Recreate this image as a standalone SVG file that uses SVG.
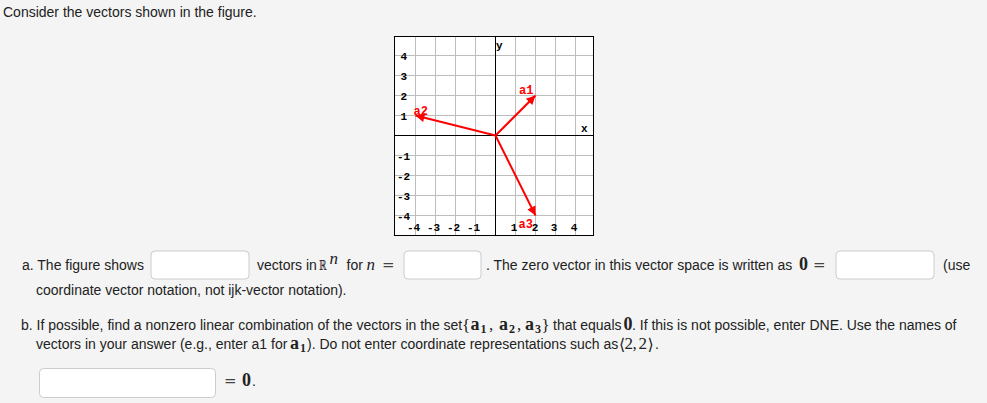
<svg xmlns="http://www.w3.org/2000/svg" width="987" height="403" viewBox="0 0 987 403">
<style>
.t{font-family:"Liberation Sans",Arial,sans-serif;font-size:14px;fill:#222}
.m{font-family:"Liberation Serif","Times New Roman",serif;font-size:17px;fill:#222}
.eq{font-family:"DejaVu Serif",serif;font-size:15px;fill:#444}
.mb{font-family:"Liberation Serif","Times New Roman",serif;font-size:18px;font-weight:bold;fill:#222}
.sb{font-family:"Liberation Serif","Times New Roman",serif;font-size:12px;font-weight:bold;fill:#222}
.sym{font-family:"DejaVu Serif",serif;fill:#222}
.box{fill:#fff;stroke:#ccc;stroke-width:1}
.grid{stroke:#bdbdbd;stroke-width:1}
.axis{stroke:#000;stroke-width:1}
.lab{font-family:"Liberation Mono","Courier New",monospace;font-size:11px;font-weight:bold;fill:#000}
.vl{font-family:"Liberation Mono","Courier New",monospace;font-size:12px;font-weight:bold;fill:#f00}
.vec{stroke:#f00;stroke-width:2;fill:none}
</style>
<defs>
<marker id="ah" viewBox="0 0 10 10" refX="10" refY="5" markerWidth="11" markerHeight="9" markerUnits="userSpaceOnUse" orient="auto">
<path d="M0,0 L10,5 L0,10 z" fill="#f00"/>
</marker>
</defs>
<rect x="0" y="0" width="987" height="403" fill="#f4f4f4"/>
<text class="t" x="3" y="17">Consider the vectors shown in the figure.</text>

<g id="graph">
<rect x="394.5" y="36.5" width="199" height="199" fill="#fff"/>
<g id="gridlines">
<path class="grid" d="M415.5,36.5V235.5M435.5,36.5V235.5M455.5,36.5V235.5M475.5,36.5V235.5M515.5,36.5V235.5M535.5,36.5V235.5M555.5,36.5V235.5M575.5,36.5V235.5M394.5,55.5H593.5M394.5,75.5H593.5M394.5,95.5H593.5M394.5,115.5H593.5M394.5,155.5H593.5M394.5,175.5H593.5M394.5,195.5H593.5M394.5,215.5H593.5"/>
</g>
<path class="axis" d="M495.5,36.5V235.5M394.5,135.5H593.5"/>
<rect x="394.5" y="36.5" width="199" height="199" fill="none" stroke="#000" stroke-width="1"/>
<g id="ylabels">
<text class="lab" x="400.5" y="60">4</text>
<text class="lab" x="400.5" y="80">3</text>
<text class="lab" x="400.5" y="100">2</text>
<text class="lab" x="400.5" y="120">1</text>
<text class="lab" x="397" y="160">-1</text>
<text class="lab" x="397" y="180">-2</text>
<text class="lab" x="397" y="200">-3</text>
<text class="lab" x="397" y="220">-4</text>
</g>
<g id="xlabels" text-anchor="middle">
<text class="lab" x="413.5" y="231">-4</text>
<text class="lab" x="433.5" y="231">-3</text>
<text class="lab" x="453.5" y="231">-2</text>
<text class="lab" x="473.5" y="231">-1</text>
<text class="lab" x="514" y="231">1</text>
<text class="lab" x="535" y="231">2</text>
<text class="lab" x="554" y="231">3</text>
<text class="lab" x="574" y="231">4</text>
</g>
<text class="lab" x="496" y="49">y</text>
<text class="lab" x="581" y="132">x</text>
</g>

<g id="connectors">
<line class="vec" x1="495.5" y1="135.5" x2="535.5" y2="95.5" marker-end="url(#ah)"/>
<line class="vec" x1="495.5" y1="135.5" x2="415.5" y2="115.5" marker-end="url(#ah)"/>
<line class="vec" x1="495.5" y1="135.5" x2="535.5" y2="215.5" marker-end="url(#ah)"/>
</g>
<g id="a1"><text class="vl" x="519" y="94">a1</text></g>
<g id="a2"><text class="vl" x="413.5" y="115">a2</text></g>
<g id="a3"><text class="vl" x="518.5" y="228">a3</text></g>

<g id="partA">
<text class="t" x="22" y="270">a. The figure shows</text>
<rect class="box" x="151" y="251" width="98" height="28" rx="4"/>
<text class="t" x="257" y="270">vectors in</text>
<text class="sym" x="319" y="270" font-size="14" textLength="7.5" lengthAdjust="spacingAndGlyphs">ℝ</text>
<text class="m" x="329.5" y="264" font-size="12" font-style="italic">n</text>
<text class="t" x="346.5" y="270">for</text>
<text class="m" x="366.5" y="270" font-style="italic">n</text>
<text class="eq" x="382" y="270">=</text>
<rect class="box" x="404" y="251" width="77" height="28" rx="4"/>
<text class="t" x="486" y="270">. The zero vector in this vector space is written as</text>
<text class="mb" x="799" y="270">0</text>
<text class="eq" x="813" y="270">=</text>
<rect class="box" x="836" y="251" width="98" height="28" rx="4"/>
<text class="t" x="943" y="270">(use</text>
<text class="t" x="36" y="295">coordinate vector notation, not ijk-vector notation).</text>
</g>

<g id="partB">
<text class="t" x="21" y="330">b. If possible, find a nonzero linear combination of the vectors in the set</text>
<text class="m" x="462" y="331" font-size="20">{</text>
<text class="mb" x="470.5" y="330">a</text><text class="sb" x="480.5" y="333">1</text><text class="m" x="489" y="330">,</text>
<text class="mb" x="499" y="330">a</text><text class="sb" x="509" y="333">2</text><text class="m" x="517" y="330">,</text>
<text class="mb" x="525" y="330">a</text><text class="sb" x="535" y="333">3</text>
<text class="m" x="541.5" y="331" font-size="20">}</text>
<text class="t" x="553" y="330">that equals</text>
<text class="mb" x="623.5" y="330">0</text>
<text class="t" x="632" y="330">. If this is not possible, enter DNE. Use the names of</text>
<text class="t" x="36" y="349">vectors in your answer (e.g., enter a1 for</text>
<text class="mb" x="290" y="349">a</text><text class="sb" x="300" y="352">1</text>
<text class="t" x="307" y="349">). Do not enter coordinate representations such as</text>
<text class="sym" x="619" y="350" font-size="16">⟨</text>
<text class="m" x="624.5" y="349">2</text><text class="m" x="632.5" y="349">,</text>
<text class="m" x="638.5" y="349">2</text>
<text class="sym" x="647.5" y="350" font-size="16">⟩</text>
<text class="t" x="655" y="349">.</text>
</g>

<g id="answerB">
<rect class="box" x="39.5" y="368.5" width="176" height="29" rx="4"/>
<text class="eq" x="224" y="386">=</text>
<text class="mb" x="242" y="386">0</text>
<text class="t" x="252" y="386">.</text>
</g>
</svg>
